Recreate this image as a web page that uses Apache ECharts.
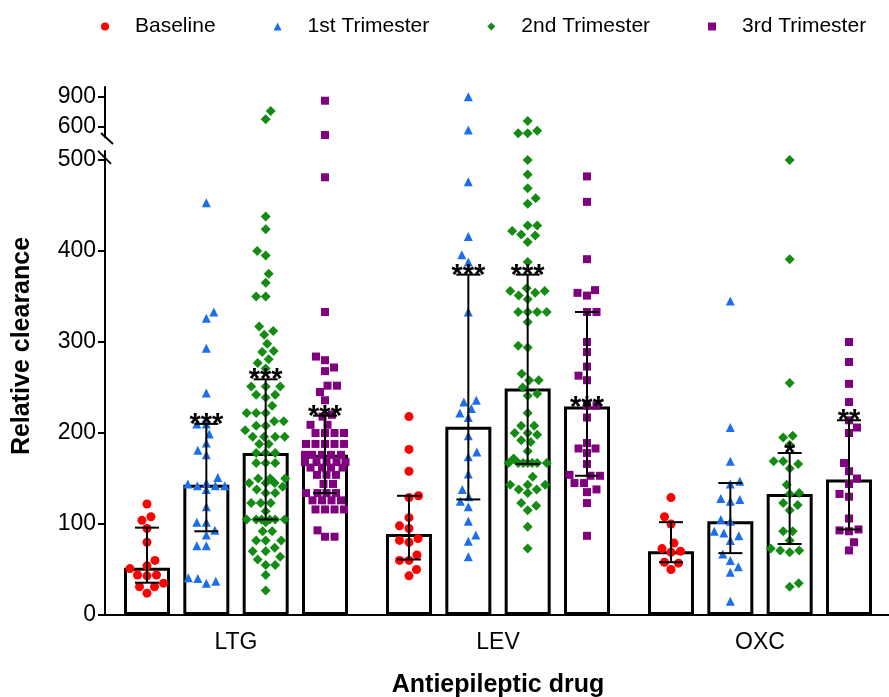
<!DOCTYPE html>
<html>
<head>
<meta charset="utf-8">
<script src="https://cdn.jsdelivr.net/npm/echarts@6/dist/echarts.min.js"></script>
<style>html,body{margin:0;padding:0;background:#fff}#c{width:889px;height:697px}</style>
</head>
<body>
<div id="c"></div>
<script>
// ---------- data ----------
const categories = ['LTG', 'LEV', 'OXC'];
const seriesNames = ['Baseline', '1st Trimester', '2nd Trimester', '3rd Trimester'];
const lowerTicks = [0, 100, 200, 300, 400, 500];
const upperTicks = [600, 900];
const yTitle = 'Relative clearance';
const xTitle = 'Antiepileptic drug';

const ltgBaseline = [122, 108, 104, 95, 80, 60, 54, 51, 44, 44, 43, 35, 31, 31, 24];
const ltg1st = [453, 333, 326, 293, 244, 210, 210, 199, 189, 181, 176, 151, 145, 144, 142, 142, 142, 138, 119, 102, 102, 93, 88, 76, 76, 41, 40, 37, 35];
const ltg2nd = [760, 677, 438, 424, 400, 395, 375, 365, 350, 350, 317, 312, 308, 298, 290, 289, 281, 277, 271, 251, 251, 251, 242, 242, 239, 230, 222, 222, 222, 213, 213, 208, 208, 203, 196, 196, 196, 196, 188, 188, 178, 178, 178, 167, 167, 167, 150, 150, 150, 145, 145, 145, 141, 138, 134, 134, 123, 123, 123, 114, 105, 105, 105, 105, 105, 105, 102, 92, 92, 82, 82, 82, 74, 70, 70, 64, 61, 55, 55, 44, 27];
const ltg3rd = [863, 520, 481, 333, 284, 280, 272, 268, 252, 252, 245, 236, 220, 218, 209, 209, 200, 200, 200, 200, 188, 188, 188, 188, 188, 176, 176, 176, 176, 176, 168, 168, 168, 168, 168, 162, 162, 162, 162, 154, 154, 154, 144, 144, 134, 134, 134, 134, 126, 126, 126, 126, 116, 116, 116, 116, 93, 86, 86];

const levBaseline = [218, 182, 158, 131, 129, 107, 98, 95, 84, 82, 80, 66, 60, 60, 50, 43];
const lev1st = [903, 570, 476, 416, 396, 388, 333, 236, 234, 227, 222, 217, 197, 179, 174, 155, 138, 130, 125, 119, 103, 88, 81, 64];
const lev2nd = [660, 563, 537, 537, 500, 484, 469, 458, 452, 428, 428, 422, 418, 417, 410, 388, 359, 356, 356, 354, 351, 347, 333, 333, 333, 333, 322, 296, 294, 265, 258, 258, 250, 243, 241, 222, 208, 208, 200, 200, 198, 192, 190, 180, 172, 167, 167, 167, 167, 167, 167, 167, 152, 143, 143, 143, 138, 138, 134, 123, 120, 115, 97, 73];
const lev3rd = [482, 454, 391, 357, 354, 351, 333, 333, 300, 289, 273, 263, 258, 230, 230, 217, 189, 183, 183, 178, 166, 154, 153, 153, 145, 145, 138, 135, 123, 87];

const oxcBaseline = [129, 108, 100, 79, 73, 70, 69, 58, 57, 50];
const oxc1st = [345, 206, 169, 147, 144, 128, 127, 125, 105, 103, 92, 90, 87, 82, 67, 60, 53, 47, 15];
const oxc2nd = [500, 391, 255, 197, 195, 187, 169, 169, 166, 161, 143, 134, 133, 123, 121, 115, 92, 92, 82, 73, 71, 71, 69, 35, 31];
const oxc3rd = [300, 278, 254, 234, 214, 206, 200, 167, 158, 150, 144, 133, 130, 106, 94, 93, 92, 80, 71];

// bar = median, error bar = interquartile range
const baselineMedian = [52, 89, 70];
const trim1Median = [143, 207, 103];
const trim2Median = [178, 249, 133];
const trim3Median = [176, 229, 149];

const baselineLow = [35.5, 61, 58];
const trim1Low = [92, 127, 68];
const trim2Low = [105, 166, 78];
const trim3Low = [134, 153, 94];

const baselineHigh = [96, 131, 102];
const trim1High = [210, 374, 145];
const trim2High = [259, 374, 178];
const trim3High = [219, 333, 214];

const baselineSig = ['', '', ''];
const trim1Sig = ['***', '***', ''];
const trim2Sig = ['***', '***', '*'];
const trim3Sig = ['***', '***', '**'];
const baselineSigAt = [null, null, null];
const trim1SigAt = [210, 374, null];
const trim2SigAt = [259, 374, 178];
const trim3SigAt = [219, 229, 214];

// ---------- styling ----------
const FONT = '"Liberation Sans", Arial, Helvetica, sans-serif';
const colors = ['#ff0000', '#1c6fea', '#148c14', '#800080'];
const symbols = ['circle', 'triangle', 'diamond', 'rect'];
const symSizes = [9, 9, 10, 8];
const GL = 105, GW = 786;
const LOWER_MAX = 510, UPPER_MIN = 500, UPPER_MAX = 1000;
const BAR_W = 46, BAR_GAP = 0.29;

const pointSets = [
  [ltgBaseline, levBaseline, oxcBaseline],
  [ltg1st, lev1st, oxc1st],
  [ltg2nd, lev2nd, oxc2nd],
  [ltg3rd, lev3rd, oxc3rd]
];
const medians = [baselineMedian, trim1Median, trim2Median, trim3Median];
const lows = [baselineLow, trim1Low, trim2Low, trim3Low];
const highs = [baselineHigh, trim1High, trim2High, trim3High];
const sigs = [baselineSig, trim1Sig, trim2Sig, trim3Sig];
const sigAts = [baselineSigAt, trim1SigAt, trim2SigAt, trim3SigAt];

const chart = echarts.init(document.getElementById('c'), null, { renderer: 'canvas' });

const axisLineStyle = { color: '#000', width: 2 };
const barSeries = seriesNames.map((n, j) => ({
  type: 'bar', name: n + ' bar', xAxisIndex: 0, yAxisIndex: 0,
  data: medians[j], barWidth: BAR_W, barGap: (BAR_GAP * 100) + '%',
  itemStyle: { color: '#fff', borderColor: '#000', borderWidth: 3 },
  z: 2, silent: true
}));

const baseOption = {
  animation: false,
  textStyle: { fontFamily: FONT, color: '#000' },
  legend: {
    data: seriesNames, left: 96, top: 11, itemWidth: 8, itemHeight: 8, itemGap: 58,
    textStyle: { fontSize: 21, fontFamily: FONT, color: '#000', padding: [0, 0, 0, 21] }
  },
  grid: [
    { left: GL, width: GW, top: 615 - LOWER_MAX * 0.91, bottom: 82, outerBoundsMode: 'none', containLabel: false },
    { left: GL, width: GW, top: 87, height: 50, outerBoundsMode: 'none', containLabel: false }
  ],
  xAxis: [
    {
      type: 'category', gridIndex: 0, data: categories,
      axisLine: { lineStyle: axisLineStyle },
      axisTick: { alignWithLabel: true, length: 7, lineStyle: axisLineStyle },
      axisLabel: { color: '#000', fontSize: 23, fontFamily: FONT, margin: 16 },
      name: xTitle, nameLocation: 'middle', nameGap: 58,
      nameTextStyle: { fontSize: 25, fontWeight: 'bold', fontFamily: FONT, color: '#000' }
    },
    { type: 'value', gridIndex: 0, min: 0, max: 3, show: false },
    { type: 'value', gridIndex: 1, min: 0, max: 3, show: false }
  ],
  yAxis: [
    {
      type: 'value', gridIndex: 0, min: 0, max: LOWER_MAX,
      axisLine: { show: true, lineStyle: axisLineStyle },
      axisTick: { show: true, length: 7, lineStyle: axisLineStyle, customValues: lowerTicks },
      axisLabel: { color: '#000', fontSize: 23, fontFamily: FONT, margin: 9, customValues: lowerTicks },
      splitLine: { show: false }
    },
    {
      type: 'value', gridIndex: 1, min: UPPER_MIN, max: UPPER_MAX,
      axisLine: { show: true, lineStyle: axisLineStyle },
      axisTick: { show: true, length: 7, lineStyle: axisLineStyle, customValues: upperTicks },
      axisLabel: { color: '#000', fontSize: 23, fontFamily: FONT, margin: 9, customValues: upperTicks },
      splitLine: { show: false }
    }
  ],
  series: barSeries
};
chart.setOption(baseOption);

// ---------- scatter layout (beeswarm in pixel space, kept inside the bar) ----------
function swarm(pys, D, maxHalf) {
  const order = pys.map((y, i) => i).sort((a, b) => pys[b] - pys[a]);
  const placed = [];
  const dx = new Array(pys.length);
  let side = 1;
  for (const i of order) {
    const y = pys[i];
    let best = null;
    let d = D;
    while (best === null) {
      for (let k = 0; k <= maxHalf * 2 && best === null; k++) {
        const cands = k === 0 ? [0] : [side * k * 0.5, -side * k * 0.5];
        for (const c of cands) {
          const ok = placed.every(p => {
            const dy = p.y - y;
            if (Math.abs(dy) >= d) return true;
            return Math.abs(p.x - c) >= Math.sqrt(d * d - dy * dy) - 0.01;
          });
          if (ok) { best = c; break; }
        }
      }
      d *= 0.9;
      if (d < 0.5 && best === null) best = 0;
    }
    if (best !== 0) side = -side;
    dx[i] = best;
    placed.push({ x: best, y: y });
  }
  return dx;
}

const step = BAR_W * (1 + BAR_GAP);
const lowerPts = [[], [], [], []];
const upperPts = [[], [], [], []];
const errData = [];
const sigData = [];
const sigText = [];
for (let j = 0; j < 4; j++) {
  for (let i = 0; i < 3; i++) {
    const cx = chart.convertToPixel({ xAxisIndex: 0 }, categories[i]) + (j - 1.5) * step;
    const vals = pointSets[j][i];
    const pys = vals.map(v => v > LOWER_MAX
      ? chart.convertToPixel({ yAxisIndex: 1 }, v)
      : chart.convertToPixel({ yAxisIndex: 0 }, v));
    const dx = swarm(pys, 9.5, 21);
    vals.forEach((v, k) => {
      const upper = v > LOWER_MAX;
      const xv = chart.convertFromPixel({ xAxisIndex: upper ? 2 : 1 }, cx + dx[k]);
      (upper ? upperPts : lowerPts)[j].push([xv, v]);
    });
    const xc = chart.convertFromPixel({ xAxisIndex: 1 }, cx);
    errData.push([xc, lows[j][i], highs[j][i]]);
    if (sigs[j][i]) { sigData.push([xc, sigAts[j][i]]); sigText.push(sigs[j][i]); }
  }
}

const scatterSeries = [];
seriesNames.forEach((n, j) => {
  scatterSeries.push({
    type: 'scatter', name: n, xAxisIndex: 1, yAxisIndex: 0, data: lowerPts[j],
    symbol: symbols[j], symbolSize: symSizes[j],
    itemStyle: { color: colors[j], opacity: 1 }, z: 3, silent: true
  });
});
seriesNames.forEach((n, j) => {
  scatterSeries.push({
    type: 'scatter', name: n, xAxisIndex: 2, yAxisIndex: 1, data: upperPts[j],
    symbol: symbols[j], symbolSize: symSizes[j],
    itemStyle: { color: colors[j], opacity: 1 }, z: 3, silent: true
  });
});

const errSeries = {
  type: 'custom', name: 'iqr', xAxisIndex: 1, yAxisIndex: 0, data: errData, z: 4, silent: true,
  encode: { x: 0, y: [1, 2] },
  renderItem: function (params, api) {
    const x = api.value(0);
    const pLo = api.coord([x, api.value(1)]);
    const pHi = api.coord([x, api.value(2)]);
    const hw = 12;
    const st = { stroke: '#000', lineWidth: 2 };
    return {
      type: 'group', children: [
        { type: 'line', shape: { x1: pLo[0], y1: pLo[1], x2: pHi[0], y2: pHi[1] }, style: st },
        { type: 'line', shape: { x1: pLo[0] - hw, y1: pLo[1], x2: pLo[0] + hw, y2: pLo[1] }, style: st },
        { type: 'line', shape: { x1: pHi[0] - hw, y1: pHi[1], x2: pHi[0] + hw, y2: pHi[1] }, style: st }
      ]
    };
  }
};

const sigSeries = {
  type: 'custom', name: 'sig', xAxisIndex: 1, yAxisIndex: 0, data: sigData, z: 5, silent: true,
  encode: { x: 0, y: 1 },
  renderItem: function (params, api) {
    const p = api.coord([api.value(0), api.value(1)]);
    return {
      type: 'text', x: p[0], y: p[1] + 1,
      style: { text: sigText[params.dataIndex], fill: '#000', font: 'bold 29px ' + FONT, align: 'center', verticalAlign: 'middle' }
    };
  }
};

// axis break marks and y title
const yUpperBottom = chart.convertToPixel({ yAxisIndex: 1 }, UPPER_MIN);
const yLowerTop = chart.convertToPixel({ yAxisIndex: 0 }, LOWER_MAX);
const ax = chart.convertToPixel({ xAxisIndex: 1 }, 0);
const breakStyle = { stroke: '#000', lineWidth: 2 };

chart.setOption({
  series: barSeries.concat(scatterSeries, [errSeries, sigSeries]),
  graphic: [
    { type: 'line', shape: { x1: ax - 4, y1: yUpperBottom - 4, x2: ax + 8, y2: yUpperBottom + 7 }, style: breakStyle },
    { type: 'line', shape: { x1: ax - 7, y1: yLowerTop, x2: ax + 6, y2: yLowerTop + 13 }, style: breakStyle },
    {
      type: 'text', x: 22, y: 346, rotation: Math.PI / 2,
      style: { text: yTitle, font: 'bold 25px ' + FONT, fill: '#000', align: 'center', verticalAlign: 'middle' }
    }
  ]
});
</script>
</body>
</html>
